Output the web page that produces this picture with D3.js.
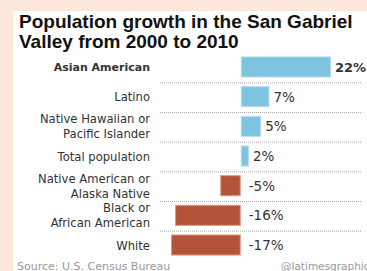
<!DOCTYPE html>
<html>
<head>
<meta charset="utf-8">
<script src="https://cdn.jsdelivr.net/npm/d3@7"></script>
<style>
  body { margin: 0; background: #fce8da; }
  svg { display: block; font-family: "Liberation Sans", Arial, sans-serif; }
</style>
</head>
<body>
<script>
"use strict"

const groups = ['Asian American', 'Latino', 'Native Hawaiian or\nPacific Islander', 'Total population',
   'Native American or\nAlaska Native', 'Black or\nAfrican American', 'White']
const growth = [22, 7, 5, 2, -5, -16, -17]

const w = 367
const h = 271
const label_font = '"DejaVu Sans", sans-serif'

let svg = d3.select('body')
   .append('svg')
      .attr('width', w)
      .attr('height', h)

svg.append('rect')
   .attr('x', 13)
   .attr('y', 11)
   .attr('width', w - 13)
   .attr('height', h - 11)
   .attr('fill', '#fff')

const title = svg.append('text')
   .attr('font-weight', 'bold')
   .attr('font-size', 19)
   .attr('fill', '#111')
title.append('tspan').attr('x', 19).attr('y', 27.5).text('Population growth in the San Gabriel')
title.append('tspan').attr('x', 19).attr('y', 47.5).text('Valley from 2000 to 2010')

const x = d3.scaleLinear([-17, 22], [171, 331])
const y = d3.scaleBand(groups, [52, 260]).paddingInner(0.29).paddingOuter(0.15)
const step = y.step()

// dotted separators between rows
svg.selectAll('line.sep')
   .data(groups.slice(0, -1))
   .enter()
   .append('line')
      .attr('class', 'sep')
      .attr('x1', 160)
      .attr('x2', 362)
      .attr('y1', d => y(d) + y.bandwidth() + step * y.paddingInner() / 2 + 1)
      .attr('y2', d => y(d) + y.bandwidth() + step * y.paddingInner() / 2 + 1)
      .attr('stroke', '#aaa')
      .attr('stroke-width', 1)
      .attr('stroke-dasharray', '1,1')

svg.selectAll('rect.bar')
   .data(growth)
   .enter()
   .append('rect')
      .attr('class', 'bar')
      .attr('x', d => x(Math.min(0, d)) + 0.5)
      .attr('y', (d, i) => y(groups[i]) + 0.5)
      .attr('width', d => Math.abs(x(d) - x(0)) - 1)
      .attr('height', y.bandwidth() - 1)
      .attr('fill', d => d >= 0 ? '#7ec4e0' : '#b3543a')
      .attr('stroke', d => d >= 0 ? '#b4def0' : '#d99a88')
      .attr('stroke-width', 1)

// category labels
svg.selectAll('text.cat')
   .data(groups)
   .enter()
   .append('text')
      .attr('class', 'cat')
      .attr('text-anchor', 'end')
      .attr('font-family', label_font)
      .attr('font-size', (d, i) => i === 0 ? 11 : 11.6)
      .attr('fill', '#333')
      .attr('font-weight', (d, i) => i === 0 ? 'bold' : 'normal')
      .each(function (d) {
         const lines = d.split('\n')
         const cy = y(d) + y.bandwidth() / 2
         lines.forEach((l, j) => {
            d3.select(this).append('tspan')
               .attr('x', 150)
               .attr('y', cy + 4.5 + (j - (lines.length - 1) / 2) * 15)
               .text(l)
         })
      })

// value labels
svg.selectAll('text.val')
   .data(growth)
   .enter()
   .append('text')
      .attr('class', 'val')
      .attr('x', d => d >= 0 ? x(d) + 4 : x(0) + 8)
      .attr('y', (d, i) => y(groups[i]) + y.bandwidth() / 2 + 5)
      .attr('font-family', label_font)
      .attr('font-size', (d, i) => i === 0 ? 13 : 13.5)
      .attr('fill', '#333')
      .attr('font-weight', (d, i) => i === 0 ? 'bold' : 'normal')
      .text(d => `${d}%`)

svg.append('text')
   .attr('x', 17)
   .attr('y', 270)
   .attr('font-family', label_font)
   .attr('font-size', 11)
   .attr('fill', '#999')
   .text('Source: U.S. Census Bureau')

svg.append('text')
   .attr('x', 281)
   .attr('y', 270)
   .attr('font-family', label_font)
   .attr('font-size', 10.5)
   .attr('fill', '#999')
   .text('@latimesgraphics')
</script>
</body>
</html>
